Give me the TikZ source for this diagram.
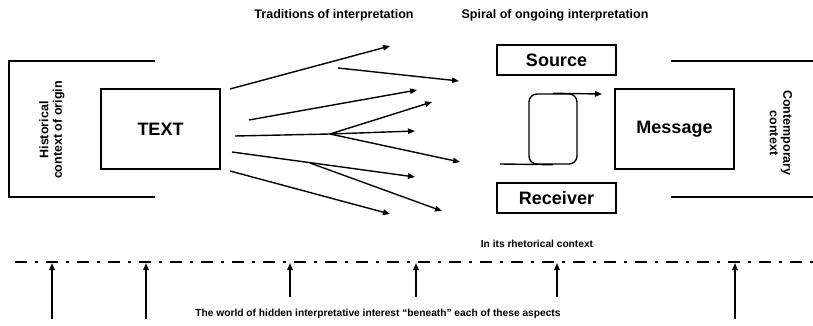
\documentclass[tikz,border=0pt]{standalone}
\usepackage{fontspec}
\setmainfont{Liberation Sans}
\usetikzlibrary{arrows.meta, positioning, calc}

\tikzset{
  box/.style={draw, line width=1.6pt, inner sep=0pt, font=\bfseries\fontsize{18}{20}\selectfont},
  lab/.style={font=\bfseries\fontsize{12.5}{14}\selectfont},
  ctx/.style={font=\bfseries\fontsize{12.5}{13.5}\selectfont, align=center},
  small/.style={font=\bfseries\fontsize{10.2}{12}\selectfont},
  up/.style={->, line width=1.4pt}
}

\begin{document}
\begin{tikzpicture}[x=1pt, y=-1pt, line width=1.4pt, >={Triangle[length=7pt,width=5.5pt]}]
\useasboundingbox (0,0) rectangle (813,326);

% Contexto de origen
\draw (155,61) -- (9,61) -- (9,197) -- (155,197);
\node[ctx, rotate=90] (hist) at (52,130) {Historical\\context of origin};
\node[box, minimum width=119pt, minimum height=80pt] (text) at (160.5,129) {TEXT};

% Contexto contemporaneo
\draw (671,61) -- (813,61);
\draw (671,197) -- (813,197);
\node[ctx, rotate=-90] (cont) at (781,133) {Contemporary\\context};
\node[box, minimum width=119pt, minimum height=80pt] (msg) at (674.5,129) {Message};
\node[box, minimum width=119pt, minimum height=30pt] (src) at (556.5,60) {Source};
\node[box, minimum width=119pt, minimum height=30pt] (rcv) at (556.5,198) {Receiver};

% Espiral
\node[draw, rounded corners=8pt, minimum width=48pt, minimum height=70pt, inner sep=0pt] (spiral) at (553,129) {};
\coordinate (sin) at (500,164);
\coordinate (sout) at (602,94);
\draw (sin) -- (spiral.south);
\draw[->] (spiral.north) -- (sout);

% Tradiciones de interpretacion
\coordinate (t1s) at (230,89);  \coordinate (t1e) at (390,46);
\coordinate (t2s) at (338,68);  \coordinate (t2e) at (459,81);
\coordinate (t3s) at (249,120); \coordinate (t3e) at (417,90);
\coordinate (t4s) at (235,136); \coordinate (b1) at (330,134);
\coordinate (t4a) at (432,102); \coordinate (t4b) at (415,131); \coordinate (t4c) at (460,162);
\coordinate (t5s) at (232,152); \coordinate (b2) at (310,163);
\coordinate (t5a) at (415,177); \coordinate (t5b) at (442,211);
\coordinate (t6s) at (230,171); \coordinate (t6e) at (390,214);
\draw[->] (t1s) -- (t1e);
\draw[->] (t2s) -- (t2e);
\draw[->] (t3s) -- (t3e);
\draw (t4s) -- (b1);
\draw[->] (b1) -- (t4a);
\draw[->] (b1) -- (t4b);
\draw[->] (b1) -- (t4c);
\draw[->] (t5s) -- (t5a);
\draw[->] (b2) -- (t5b);
\draw[->] (t6s) -- (t6e);

% Etiquetas superiores
\node[lab] (trad) at (334,15) {Traditions of interpretation};
\node[lab] (spir) at (555,15) {Spiral of ongoing interpretation};

% Linea inferior
\coordinate (ll) at (15,262);
\coordinate (lr) at (813,262);
\draw[line width=1.6pt, dash pattern=on 12pt off 8pt on 3pt off 8pt] (ll) -- (lr);
\node[small] (rhet) at (537,244) {In its rhetorical context};
\node[small] (world) at (378,314) {The world of hidden interpretative interest “beneath” each of these aspects};

% Flechas hacia arriba
\foreach \x/\y in {52/319, 146/319, 290/297, 416/297, 557/297, 735/319}
  \draw[up] (\x,\y) -- (\x,263);
\end{tikzpicture}
\end{document}
